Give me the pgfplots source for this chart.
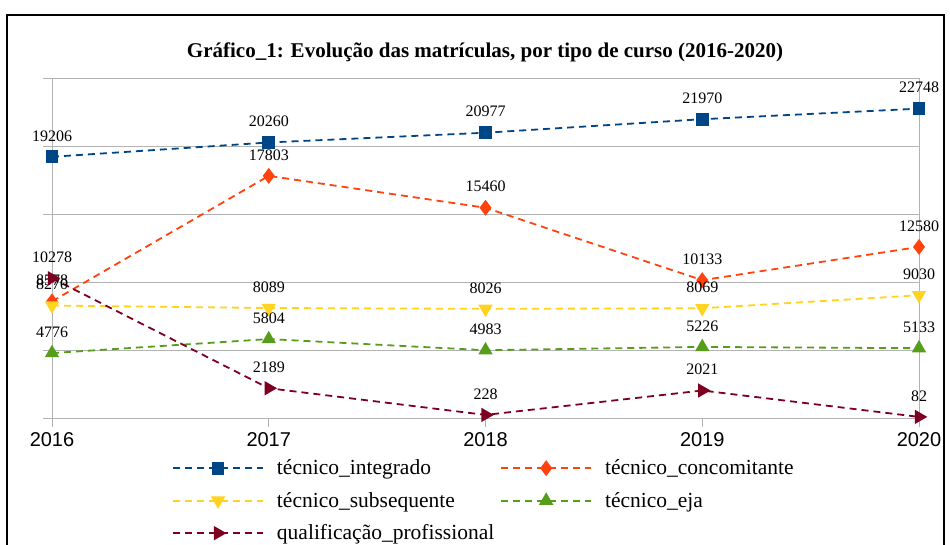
\documentclass[border=0pt]{standalone}
\usepackage{fontspec}
\setmainfont{Liberation Serif}
\newfontfamily\yearfont{Liberation Sans}
\usepackage{pgfplots}
\pgfplotsset{compat=1.18}
\definecolor{cint}{HTML}{004586}
\definecolor{ccon}{HTML}{FF420E}
\definecolor{csub}{HTML}{FFD320}
\definecolor{ceja}{HTML}{579D1C}
\definecolor{cqua}{HTML}{7E0021}
\definecolor{cgrid}{HTML}{B3B3B3}
\pgfplotsset{ser/.style={line width=1.8bp, dash pattern=on 7bp off 5bp}}
\begin{document}
\begin{tikzpicture}
\begin{axis}[
  at={(52bp,-418bp)}, anchor=south west,
  scale only axis, width=867bp, height=340bp,
  xmin=2016, xmax=2020, ymin=0, ymax=25000,
  clip=false,
  scaled y ticks=false,
  xtick={2016,2017,2018,2019,2020},
  xticklabels={2016,2017,2018,2019,2020},
  xticklabel style={font=\yearfont\fontsize{20bp}{24bp}\selectfont, yshift=-2bp},
  ytick={0,5000,10000,15000,20000,25000},
  yticklabels={},
  ymajorgrids, grid style={cgrid, line width=0.9bp},
  axis line style={cgrid, line width=0.9bp},
  tick style={cgrid, line width=0.9bp},
  tick align=outside, major tick length=9bp,
  xtick pos=bottom, ytick pos=left,
  nodes near coords={\fontsize{16bp}{19bp}\selectfont\pgfmathprintnumber[1000 sep={},assume math mode=true]{\pgfplotspointmeta}},
  every node near coord/.append style={anchor=center, yshift=21bp, text=black, inner sep=0pt},
  legend columns=2,
  legend cell align=left,
  legend style={at={(axis description cs:0.1384,-0.117)}, anchor=north west, draw=none, fill=none,
    inner sep=0pt, font=\fontsize{21.5bp}{24bp}\selectfont,
    column sep=11bp, row sep=12bp,
    /tikz/every even column/.append style={column sep=4bp}},
  legend image code/.code={\draw[mark repeat=2,mark phase=2] plot coordinates {(0bp,0bp) (45bp,0bp) (90bp,0bp)};},
]
\addplot[ser, cint, mark=square*, mark size=5.5bp, mark options={solid}] coordinates {(2016,19206) (2017,20260) (2018,20977) (2019,21970) (2020,22748)};
\addlegendentry{técnico\_integrado}
\addplot[ser, ccon, mark=diamond*, mark size=6.5bp, mark options={solid}] coordinates {(2016,8578) (2017,17803) (2018,15460) (2019,10133) (2020,12580)};
\addlegendentry{técnico\_concomitante}
\addplot[ser, csub, mark=triangle*, mark size=6.5bp, mark options={solid, rotate=180}] coordinates {(2016,8270) (2017,8089) (2018,8026) (2019,8069) (2020,9030)};
\addlegendentry{técnico\_subsequente}
\addplot[ser, ceja, mark=triangle*, mark size=6.5bp, mark options={solid}] coordinates {(2016,4776) (2017,5804) (2018,4983) (2019,5226) (2020,5133)};
\addlegendentry{técnico\_eja}
\addplot[ser, cqua, mark=triangle*, mark size=6.5bp, mark options={solid, rotate=-90}] coordinates {(2016,10278) (2017,2189) (2018,228) (2019,2021) (2020,82)};
\addlegendentry{qualificação\_profissional}
\end{axis}
\node[font=\bfseries\fontsize{21bp}{25bp}\selectfont] at (485bp,-52bp) {Gráfico\_1: Evolução das matrículas, por tipo de curso (2016-2020)};
\draw[line width=1.5bp] (7bp,-600bp) -- (7bp,-15bp) -- (944bp,-15bp) -- (944bp,-600bp);
\pgfresetboundingbox
\useasboundingbox (0bp,0bp) rectangle (950bp,-545bp);
\end{tikzpicture}
\end{document}
